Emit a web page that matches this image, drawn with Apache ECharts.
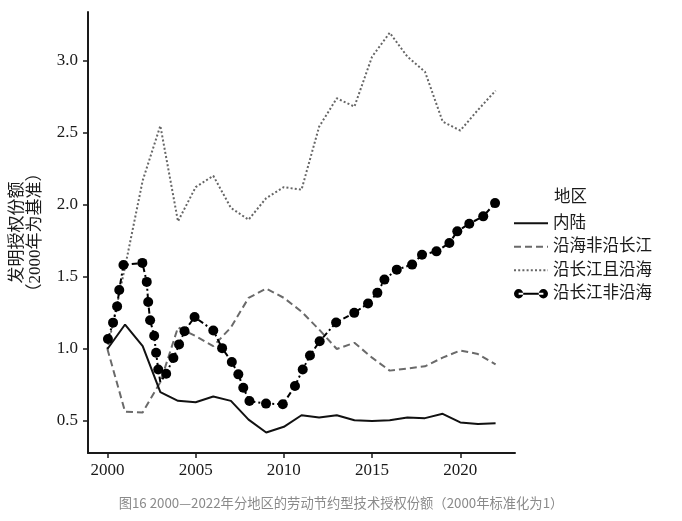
<!DOCTYPE html>
<html>
<head>
<meta charset="utf-8">
<script src="https://cdn.jsdelivr.net/npm/echarts@6/dist/echarts.min.js"></script>
<style>
html,body{margin:0;padding:0;background:#fff;}
#chart{width:682px;height:521px;}
</style>
</head>
<body>
<div id="chart"></div>
<script>
// ---- data ----
const years = [2000,2001,2002,2003,2004,2005,2006,2007,2008,2009,2010,2011,2012,2013,2014,2015,2016,2017,2018,2019,2020,2021,2022];
const inland = [1.0,1.17,1.02,0.70,0.64,0.63,0.67,0.64,0.51,0.42,0.46,0.54,0.525,0.54,0.505,0.50,0.505,0.525,0.52,0.55,0.49,0.48,0.485];
const coastNotRiver = [1.0,0.565,0.56,0.77,1.15,1.09,1.02,1.15,1.355,1.42,1.355,1.26,1.135,1.0,1.043,0.94,0.85,0.865,0.88,0.94,0.99,0.965,0.893];
const riverAndCoast = [1.0,1.57,2.17,2.55,1.886,2.124,2.203,1.98,1.898,2.048,2.124,2.106,2.544,2.741,2.683,3.03,3.196,3.03,2.925,2.579,2.517,2.66,2.794];
// markers of the river-not-coast series (positions)
const dotYears = [2000.03,2000.32,2000.55,2000.67,2000.91,2001.98,2002.23,2002.31,2002.42,2002.65,2002.76,2002.88,2003.33,2003.74,2004.06,2004.37,2004.94,2006.0,2006.5,2007.05,2007.42,2007.7,2008.05,2008.99,2009.94,2010.63,2011.07,2011.48,2012.03,2012.96,2013.99,2014.77,2015.3,2015.7,2016.4,2017.27,2017.83,2018.65,2019.38,2019.83,2020.51,2021.3,2021.97];
const dotValues = [1.07,1.183,1.296,1.41,1.583,1.598,1.466,1.327,1.2,1.092,0.974,0.858,0.828,0.937,1.032,1.124,1.222,1.129,1.006,0.91,0.824,0.731,0.639,0.621,0.616,0.743,0.858,0.955,1.054,1.184,1.251,1.316,1.39,1.482,1.551,1.586,1.655,1.678,1.736,1.817,1.87,1.921,2.013];
// line corners of that series that carry no marker
const cornerYears = [2003.0];
const cornerValues = [0.77];
const xTicks = [2000,2005,2010,2015,2020];
const yTicks = [0.5,1.0,1.5,2.0,2.5,3.0];
const names = ['内陆','沿海非沿长江','沿长江且沿海','沿长江非沿海'];
const legendTitle = '地区';
const yName = '发明授权份额\n（2000年为基准）';
const caption = '图16 2000—2022年分地区的劳动节约型技术授权份额（2000年标准化为1）';

// ---- build ----
const pair = (xs, ys) => xs.map((x, i) => [x, ys[i]]);
let dotData = dotYears.map((x, i) => ({value: [x, dotValues[i]]}));
cornerYears.forEach((x, i) => dotData.push({value: [x, cornerValues[i]], symbol: 'none'}));
dotData.sort((a, b) => a.value[0] - b.value[0]);

const serif = "'Liberation Serif', 'Noto Sans CJK SC', serif";
const chart = echarts.init(document.getElementById('chart'), null, {renderer: 'canvas'});
const dotIcon = 'path://M0.5,6a4.5,4.5 0 1,0 9,0a4.5,4.5 0 1,0 -9,0z M24.5,6a4.5,4.5 0 1,0 9,0a4.5,4.5 0 1,0 -9,0z M5,5h24v2h-24z';

chart.setOption({
  animation: false,
  backgroundColor: '#fff',
  grid: {left: 88, right: 167, top: 12, bottom: 68, containLabel: false, outerBoundsMode: 'none'},
  xAxis: {
    type: 'value', min: 1998.9, max: 2023.1,
    axisLine: {show: true, lineStyle: {color: '#1a1a1a', width: 2}},
    axisTick: {show: true, length: 5, lineStyle: {color: '#1a1a1a', width: 1.5}, customValues: xTicks},
    axisLabel: {customValues: xTicks, margin: 9, color: '#1a1a1a', fontFamily: serif, fontSize: 17, formatter: v => String(v)},
    splitLine: {show: false}
  },
  yAxis: {
    type: 'value', min: 0.278, max: 3.34,
    name: yName, nameLocation: 'middle', nameRotate: 90, nameGap: 43,
    nameTextStyle: {fontFamily: serif, fontSize: 17, color: '#1a1a1a', lineHeight: 18},
    axisLine: {show: true, lineStyle: {color: '#1a1a1a', width: 2}},
    axisTick: {show: true, length: 5, lineStyle: {color: '#1a1a1a', width: 1.5}, customValues: yTicks},
    axisLabel: {customValues: yTicks, margin: 10, color: '#1a1a1a', fontFamily: serif, fontSize: 17, formatter: v => v.toFixed(1)},
    splitLine: {show: false}
  },
  legend: {
    orient: 'vertical', left: 513, top: 215, padding: 0,
    itemWidth: 34, itemHeight: 12, itemGap: 7,
    textStyle: {fontFamily: serif, fontSize: 16.5, color: '#1a1a1a', lineHeight: 16},
    data: [
      {name: names[0], itemStyle: {opacity: 0}},
      {name: names[1], itemStyle: {opacity: 0}},
      {name: names[2], itemStyle: {opacity: 0}},
      {name: names[3], icon: dotIcon}
    ]
  },
  graphic: [
    {type: 'text', left: 554, top: 189, style: {text: legendTitle, font: "16.5px 'Liberation Serif', 'Noto Sans CJK SC'", fill: '#1a1a1a'}},
    {type: 'text', left: 'center', top: 496, style: {text: caption, font: "13.3px 'Noto Sans CJK SC', sans-serif", fill: '#8a8a8a'}}
  ],
  series: [
    {name: names[0], type: 'line', data: pair(years, inland), symbol: 'none',
     lineStyle: {color: '#111', width: 2}, itemStyle: {color: '#111'}, z: 3},
    {name: names[1], type: 'line', data: pair(years, coastNotRiver), symbol: 'none',
     lineStyle: {color: '#6a6a6a', width: 2, type: [7, 4]}, itemStyle: {color: '#6a6a6a'}, z: 2},
    {name: names[2], type: 'line', data: pair(years, riverAndCoast), symbol: 'none',
     lineStyle: {color: '#666', width: 2, type: [2, 2.2]}, itemStyle: {color: '#666'}, z: 2},
    {name: names[3], type: 'line', data: dotData, symbol: 'circle', symbolSize: 10, showSymbol: true,
     lineStyle: {color: '#000', width: 2, type: [6, 3, 2, 3]}, itemStyle: {color: '#000'}, z: 4}
  ]
});
</script>
</body>
</html>
